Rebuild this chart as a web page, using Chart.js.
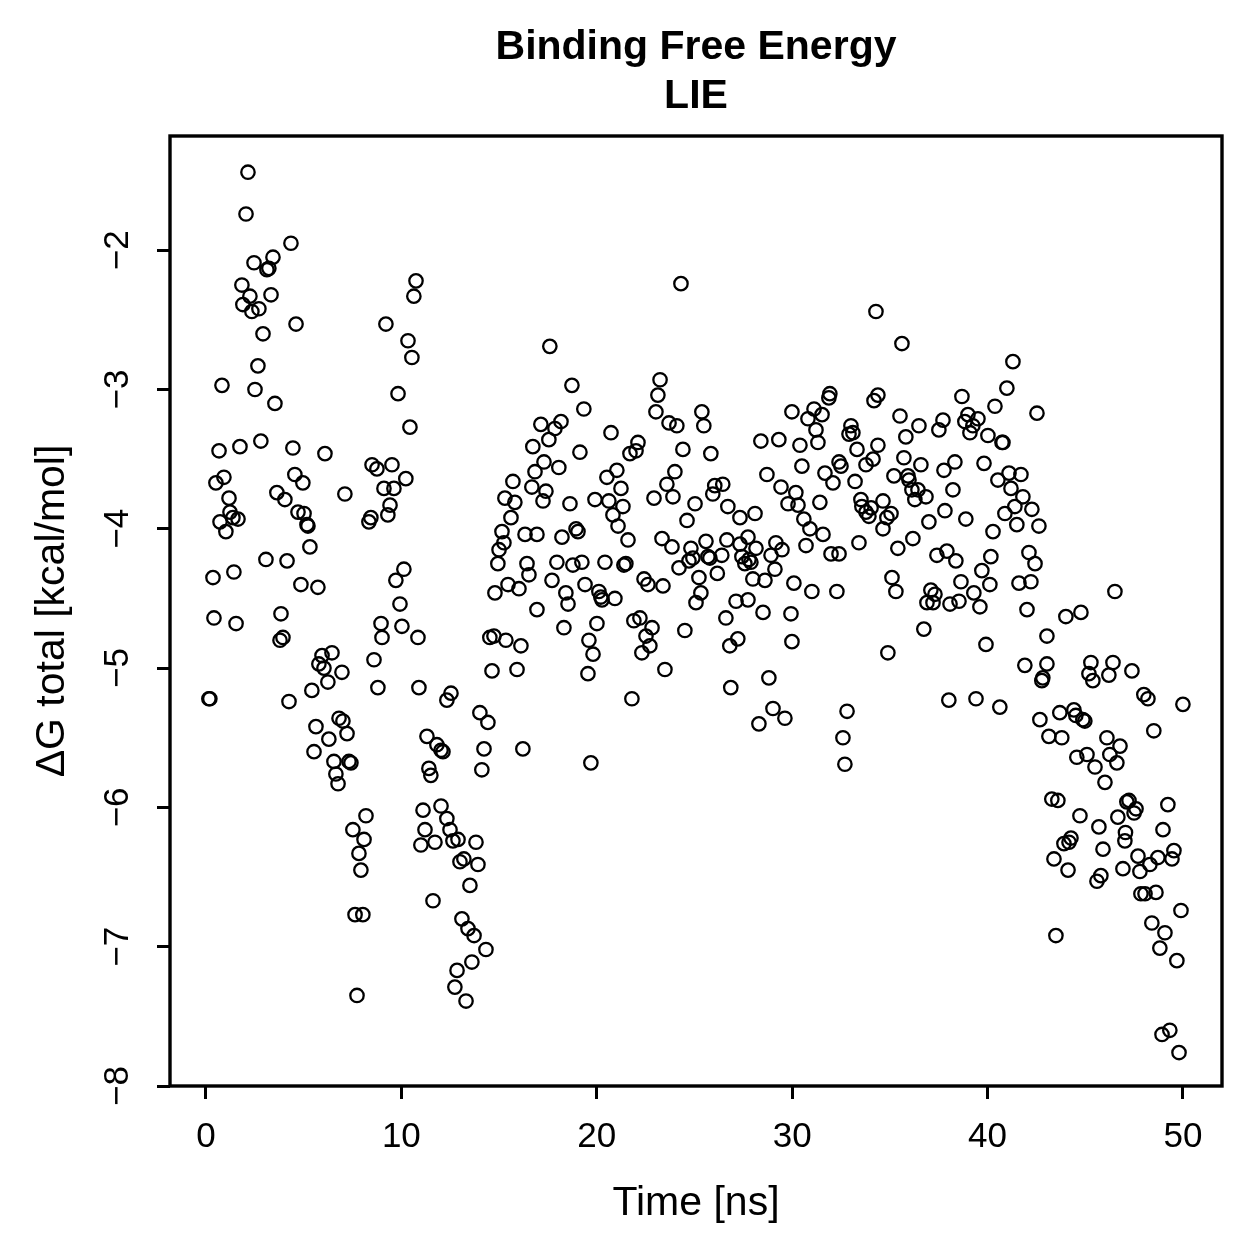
<!DOCTYPE html>
<html>
<head>
<meta charset="utf-8">
<title>Binding Free Energy LIE</title>
<script src="https://cdn.jsdelivr.net/npm/chart.js@4.4.0/dist/chart.umd.min.js"></script>
<style>
  html, body { margin: 0; padding: 0; background: #fff; overflow: hidden; }
  #wrap { width: 1259px; height: 1259px; position: relative; }
</style>
</head>
<body>
<div id="wrap"><canvas id="chart_lie"></canvas></div>
<script>
// values
var timeNs = [
  0.15, 0.20, 0.36, 0.41, 0.51, 0.67, 0.72, 0.82, 0.92, 1.02, 1.18, 1.23, 1.38, 1.43, 1.54, 1.64, 1.74, 1.84, 1.89, 2.05,
  2.15, 2.25, 2.35, 2.46, 2.51, 2.66, 2.71, 2.81, 2.92, 3.07, 3.12, 3.22, 3.33, 3.43, 3.53, 3.63, 3.79, 3.84, 3.94, 4.04,
  4.15, 4.25, 4.35, 4.45, 4.55, 4.61, 4.71, 4.86, 4.96, 5.02, 5.17, 5.22, 5.32, 5.42, 5.53, 5.63, 5.73, 5.78, 5.94, 6.04,
  6.09, 6.24, 6.29, 6.45, 6.55, 6.65, 6.76, 6.81, 6.96, 7.01, 7.11, 7.22, 7.32, 7.42, 7.52, 7.63, 7.73, 7.83, 7.93, 8.03,
  8.09, 8.19,
  8.34, 8.44, 8.50, 8.60, 8.75, 8.80, 8.96, 9.01, 9.11, 9.21, 9.31, 9.42, 9.52, 9.62, 9.72, 9.83, 9.93, 10.03, 10.13, 10.23,
  10.34, 10.44, 10.54, 10.64, 10.75, 10.85, 10.90,
  11.00, 11.11, 11.21, 11.31, 11.41, 11.51, 11.62, 11.72, 11.82, 12.03, 12.03, 12.13, 12.33, 12.33, 12.49, 12.54, 12.64, 12.74, 12.85, 12.90,
  13.00, 13.10, 13.20, 13.31, 13.41, 13.51, 13.61, 13.72, 13.82, 13.92, 14.02, 14.12, 14.23, 14.33, 14.43, 14.53, 14.64, 14.74, 14.79, 14.94,
  15.00, 15.15, 15.25, 15.30, 15.35, 15.46, 15.61, 15.71, 15.81, 15.92, 16.02, 16.12, 16.22, 16.33, 16.43, 16.53, 16.68, 16.73, 16.84, 16.94,
  16.94,
  17.14, 17.25, 17.30, 17.40, 17.55, 17.60, 17.71, 17.86, 17.96, 18.06, 18.17, 18.22, 18.32, 18.42, 18.53, 18.63, 18.73, 18.78, 18.94, 19.04,
  19.14, 19.24, 19.34, 19.40, 19.55, 19.60, 19.70, 19.81, 19.91, 20.01, 20.11, 20.21, 20.27, 20.42, 20.52, 20.62, 20.73, 20.83, 20.93, 21.03,
  21.09, 21.24, 21.34, 21.39, 21.49, 21.60, 21.70, 21.80, 21.90, 22.01, 22.11, 22.21, 22.31, 22.42, 22.52, 22.62, 22.72, 22.83, 22.93, 23.03,
  23.13, 23.24, 23.34, 23.39, 23.49, 23.59, 23.70, 23.85, 23.90, 24.00, 24.10, 24.21, 24.31, 24.41, 24.51, 24.62, 24.72, 24.82, 24.92, 25.03,
  25.08, 25.23, 25.33, 25.38, 25.48, 25.59, 25.69, 25.79, 25.84,
  25.94, 26.04, 26.17, 26.40, 26.45, 26.61, 26.66, 26.71, 26.81, 26.86, 27.13, 27.22, 27.33, 27.33, 27.43, 27.58, 27.74, 27.74, 27.79, 27.89,
  27.99, 28.10, 28.15, 28.30, 28.40, 28.51, 28.61, 28.71, 28.81, 28.92, 29.02, 29.12, 29.17, 29.32, 29.43, 29.48, 29.63, 29.79, 29.94, 29.99,
  29.99, 30.09, 30.19, 30.30, 30.40, 30.50, 30.60, 30.71, 30.81, 30.91, 31.01, 31.12, 31.22, 31.32, 31.42, 31.53, 31.58, 31.68, 31.88, 31.93,
  31.99, 32.09, 32.29, 32.40, 32.40, 32.50, 32.60, 32.70, 32.81, 32.91, 33.01, 33.11, 33.22, 33.32, 33.42, 33.52, 33.57, 33.78, 33.78, 33.93,
  34.04, 34.14, 34.19, 34.29, 34.39, 34.39, 34.65,
  34.65, 34.85, 34.90, 35.06, 35.11, 35.21, 35.31, 35.41, 35.52, 35.62, 35.72, 35.82, 35.93, 35.98, 36.13, 36.18, 36.28, 36.44, 36.49, 36.59,
  36.74, 36.85, 36.90, 37.00, 37.10, 37.21, 37.31, 37.41, 37.51, 37.72, 37.77, 37.82, 37.92, 38.02, 38.08, 38.23, 38.33, 38.38, 38.54, 38.64,
  38.69, 38.84, 38.89, 39.00, 39.10, 39.25, 39.30, 39.41, 39.51, 39.61, 39.71, 39.82, 39.92, 40.02, 40.12, 40.17, 40.28, 40.38, 40.53, 40.63,
  40.74, 40.79, 40.89, 40.99, 41.10, 41.20, 41.30, 41.40, 41.50, 41.61, 41.71, 41.81, 41.91, 42.02, 42.12, 42.22, 42.27, 42.43, 42.53, 42.63,
  42.68, 42.78, 42.83, 43.04, 43.04, 43.14,
  43.29, 43.40, 43.50, 43.60, 43.70, 43.80, 43.91, 44.01, 44.12, 44.17, 44.27, 44.42, 44.52, 44.57, 44.73, 44.78, 44.88, 44.98, 45.09, 45.19,
  45.29, 45.39, 45.50, 45.60, 45.70, 45.80, 45.91, 46.01, 46.11, 46.21, 46.26, 46.42, 46.52, 46.62, 46.67, 46.78, 46.93, 47.03, 47.06, 47.13,
  47.24, 47.39, 47.50, 47.60, 47.70, 47.80, 47.85, 48.00, 48.06, 48.21, 48.31, 48.41, 48.51, 48.62, 48.72, 48.82, 48.93, 48.98, 49.08, 49.23,
  49.33, 49.44, 49.54, 49.69, 49.80, 49.90, 50.00
];

var deltaG = [
  -5.22, -5.22, -4.35, -4.64, -3.67, -3.44, -3.95, -2.97, -3.63, -4.02, -3.78, -3.88, -3.92, -4.31, -4.68, -3.93, -3.41, -2.25, -2.39, -1.74,
  -1.44, -2.33, -2.44, -2.09, -3.00, -2.83, -2.42, -3.37, -2.60, -4.22, -2.14, -2.13, -2.32, -2.05, -3.10, -3.74, -4.80, -4.61, -4.78, -3.79,
  -4.23, -5.24, -1.95, -3.42, -3.61, -2.53, -3.88, -4.40, -3.67, -3.89, -3.97, -3.98, -4.13, -5.16, -5.60, -5.42, -4.42, -4.97, -4.91, -5.00,
  -3.46, -5.10, -5.51, -4.89, -5.67, -5.76, -5.83, -5.36, -5.03, -5.38, -3.75, -5.47, -5.67, -5.68, -6.16, -6.77, -7.35, -6.33, -6.45, -6.77,
  -6.23, -6.06,
  -3.95, -3.92, -3.54, -4.94, -3.57, -5.14, -4.68, -4.78, -3.71, -2.53, -3.90, -3.83, -3.54, -3.71, -4.37, -3.03, -4.54, -4.70, -4.29, -3.64,
  -2.65, -3.27, -2.77, -2.33, -2.22, -4.78, -5.14,
  -6.27, -6.02, -6.16, -5.49, -5.72, -5.77, -6.67, -6.25, -5.55, -5.99, -5.59, -5.60, -6.08, -5.23, -6.16, -5.18, -6.24, -7.29, -7.17, -6.23,
  -6.39, -6.80, -6.37, -7.39, -6.87, -6.56, -7.11, -6.92, -6.25, -6.41, -5.32, -5.73, -5.58, -7.02, -5.39, -4.78, -5.02, -4.77, -4.46, -4.25,
  -4.15, -4.02, -4.10, -3.78, -4.80, -4.40, -3.92, -3.66, -3.81, -5.01, -4.43, -4.84, -5.58, -4.04, -4.25, -4.33, -3.70, -3.41, -3.59, -4.04,
  -4.58,
  -3.25, -3.80, -3.52, -3.73, -3.36, -2.69, -4.37, -3.28, -4.24, -3.56, -3.23, -4.06, -4.71, -4.46, -4.54, -3.82, -2.97, -4.26, -4.00, -4.02,
  -3.45, -4.24, -3.14, -4.40, -5.04, -4.80, -5.68, -4.90, -3.79, -4.68, -4.45, -4.49, -4.51, -4.24, -3.63, -3.80, -3.31, -3.90, -4.50, -3.58,
  -3.98, -3.71, -3.84, -4.26, -4.25, -4.08, -3.46, -5.22, -4.66, -3.44, -3.38, -4.64, -4.89, -4.36, -4.77, -4.40, -4.84, -4.71, -3.78, -3.16,
  -3.04, -2.93, -4.07, -4.41, -5.01, -3.68, -3.24, -4.13, -3.77, -3.59, -3.26, -4.28, -2.24, -3.43, -4.73, -3.94, -4.23, -4.14, -4.21, -3.82,
  -4.53, -4.35, -4.46, -3.16, -3.26, -4.09, -4.20, -4.21, -3.46,
  -3.75, -3.69, -4.32, -4.19, -3.68, -4.64, -4.08, -3.84, -4.84, -5.14, -4.52, -4.79, -3.92, -4.11, -4.20, -4.25, -4.06, -4.51, -4.22, -4.24,
  -4.36, -3.89, -4.14, -5.40, -3.37, -4.60, -4.37, -3.61, -5.07, -4.19, -5.29, -4.29, -4.10, -3.36, -3.70, -4.15, -5.36, -3.82, -4.61, -3.16,
  -4.81, -4.39, -3.74, -3.83, -3.40, -3.55, -3.93, -4.12, -3.21, -4.00, -4.45, -3.14, -3.29, -3.38, -3.81, -3.18, -4.04, -3.60, -3.06, -3.03,
  -4.18, -3.67, -4.45, -3.52, -4.18, -3.55, -5.50, -5.69, -5.31, -3.32, -3.26, -3.31, -3.66, -3.43, -4.10, -3.79, -3.84, -3.54, -3.88, -3.91,
  -3.85, -3.50, -3.08, -2.44, -3.04, -3.40, -4.00,
  -3.80, -3.92, -4.89, -3.89, -4.35, -3.62, -4.45, -4.14, -3.19, -2.67, -3.49, -3.34, -3.62, -3.65, -3.72, -4.07, -3.79, -3.72, -3.26, -3.54,
  -4.72, -3.77, -4.53, -3.95, -4.44, -4.53, -4.47, -4.19, -3.29, -3.22, -3.58, -3.87, -4.16, -5.23, -4.54, -3.72, -3.52, -4.23, -4.52, -4.38,
  -3.05, -3.23, -3.93, -3.18, -3.31, -3.26, -4.46, -5.22, -3.21, -4.56, -4.30, -3.53, -4.83, -3.33, -4.40, -4.20, -4.02, -3.12, -3.65, -5.28,
  -3.38, -3.38, -3.89, -2.99, -3.60, -3.71, -2.80, -3.84, -3.97, -4.39, -3.61, -3.77, -4.98, -4.58, -4.17, -4.38, -3.86, -4.25, -3.17, -3.98,
  -5.37, -5.09, -5.07, -4.77, -4.97, -5.49,
  -5.94, -6.37, -6.92, -5.95, -5.32, -5.50, -6.26, -4.63, -6.45, -6.25, -6.22, -5.30, -5.34, -5.64, -6.06, -4.60, -5.37, -5.38, -5.62, -5.04,
  -4.96, -5.09, -5.71, -6.53, -6.14, -6.49, -6.30, -5.82, -5.50, -5.05, -5.62, -4.96, -4.45, -5.68, -6.07, -5.56, -6.44, -6.24, -6.18, -5.96,
  -5.95, -5.02, -6.04, -6.01, -6.35, -6.46, -6.62, -5.19, -6.62, -5.22, -6.41, -6.83, -5.45, -6.61, -6.36, -7.01, -7.63, -6.16, -6.90, -5.98,
  -7.60, -6.37, -6.31, -7.10, -7.76, -6.74, -5.26
];

var xTicks = [0, 10, 20, 30, 40, 50];
var yTicks = [-8, -7, -6, -5, -4, -3, -2];
var mainTitle = ['Binding Free Energy', 'LIE'];
var xTitle = 'Time [ns]';
var yTitle = '\u0394G total [kcal/mol]';

var FONT = "'Liberation Sans', Arial, Helvetica, sans-serif";
Chart.defaults.font.family = FONT;
Chart.defaults.color = '#000';

var points = timeNs.map(function (t, i) { return { x: t, y: deltaG[i] }; });

function minusSign(v) {
  return String(v).replace('-', '\u2212');
}

var chart_lie = new Chart(document.getElementById('chart_lie'), {
    type: 'scatter',
    data: {
        datasets: [
            {
                  label: 'LIE',
                  data: points,
                  pointStyle: 'circle',
                  pointRadius: 6.7,
                  pointHoverRadius: 6.7,
                  pointBorderWidth: 2.3,
                  borderColor: '#000',
                  backgroundColor: 'rgba(0,0,0,0)'
                }
        ]
    },
    options: {
        animation: false,
        responsive: true,
        maintainAspectRatio: false,
        events: [],
        layout: {
            padding: { top: 136, right: 37, left: 0, bottom: 0 }
        },
        plugins: {
            legend: { display: false },
            tooltip: { enabled: false },
            title: { display: false }
        },
        scales: {
            x: {
                type: 'linear',
                position: 'bottom',
                min: -1.84,
                max: 52.0,
                afterBuildTicks: function (scale) {
                    scale.ticks = xTicks.map(function (v) { return { value: v }; });
                },
                afterFit: function (scale) { scale.height = 173; },
                border: { display: false },
                grid: {
                    display: true,
                    drawOnChartArea: false,
                    drawTicks: true,
                    tickLength: 13,
                    color: '#000',
                    lineWidth: 3
                },
                ticks: {
                    autoSkip: false,
                    maxRotation: 0,
                    padding: 17,
                    font: { size: 35 },
                    color: '#000',
                    callback: function (v) { return minusSign(v); }
                }
            },
            y: {
                type: 'linear',
                position: 'left',
                min: -8.0,
                max: -1.18,
                afterBuildTicks: function (scale) {
                    scale.ticks = yTicks.map(function (v) { return { value: v }; });
                },
                afterFit: function (scale) { scale.width = 170; },
                border: { display: false },
                grid: {
                    display: true,
                    drawOnChartArea: false,
                    drawTicks: true,
                    tickLength: 13,
                    color: '#000',
                    lineWidth: 3
                },
                ticks: {
                    autoSkip: false,
                    minRotation: 90,
                    maxRotation: 90,
                    crossAlign: 'center',
                    padding: 19,
                    font: { size: 35 },
                    color: '#000',
                    callback: function (v) { return minusSign(v); }
                }
            }
        }
    },
plugins: [{
    id: 'whiteBackground',
    beforeDraw: (chart) => {
          const ctx = chart.canvas.getContext('2d');
          ctx.save();
          ctx.globalCompositeOperation = 'destination-over';
          ctx.fillStyle = 'white';
          ctx.fillRect(0, 0, chart.canvas.width, chart.canvas.height);
          ctx.restore();
    }
}, {
    id: 'rBoxAndTitles',
    afterDraw: (chart) => {
          const ctx = chart.ctx;
          const a = chart.chartArea;
          const cx = (a.left + a.right) / 2;
          const cy = (a.top + a.bottom) / 2;
          ctx.save();
          // plot box
          ctx.strokeStyle = '#000';
          ctx.lineWidth = 3.4;
          ctx.strokeRect(a.left, a.top, a.right - a.left, a.bottom - a.top);
          ctx.fillStyle = '#000';
          ctx.textAlign = 'center';
          ctx.textBaseline = 'alphabetic';
          // main title
          ctx.font = 'bold 41px ' + FONT;
          ctx.fillText(mainTitle[0], cx, 59);
          ctx.fillText(mainTitle[1], cx, 108);
          // axis titles
          ctx.font = '41px ' + FONT;
          ctx.fillText(xTitle, cx, 1215);
          ctx.translate(64, cy);
          ctx.rotate(-Math.PI / 2);
          ctx.fillText(yTitle, 0, 0);
          ctx.restore();
    }
}]
});
</script>
</body>
</html>
